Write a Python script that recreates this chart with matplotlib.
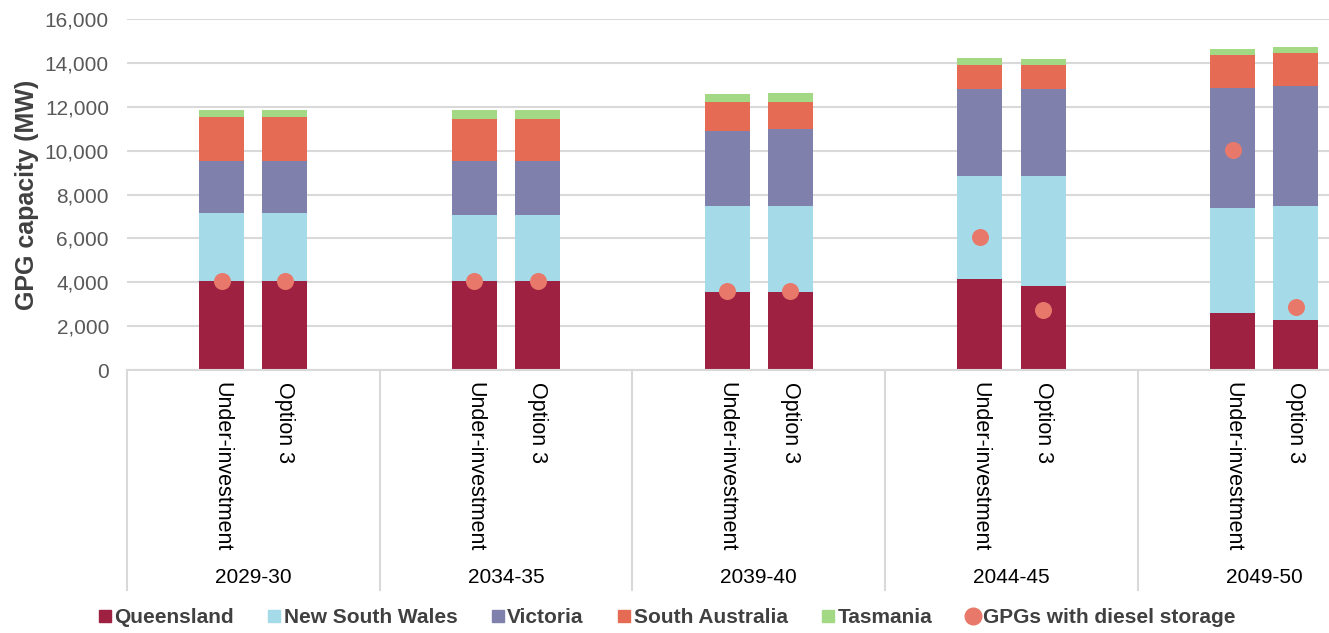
import numpy as np
import matplotlib.pyplot as plt
from matplotlib.lines import Line2D
from matplotlib.transforms import blended_transform_factory

plt.rcParams['font.family'] = ['Liberation Sans', 'DejaVu Sans']

# ─── Data (MW) ────────────────────────────────────────────────────────────────

YEARS     = ['2029-30', '2034-35', '2039-40', '2044-45', '2049-50']
SCENARIOS = ['Under-investment', 'Option 3']

QLD_UI = [4050, 4050, 3570, 4130, 2610]
QLD_O3 = [4050, 4050, 3570, 3810, 2290]
NSW_UI = [3100, 3030, 3900, 4700, 4790]
NSW_O3 = [3100, 3030, 3900, 5020, 5180]
VIC_UI = [2390, 2460, 3410, 3960, 5470]
VIC_O3 = [2390, 2460, 3500, 3960, 5490]
SA_UI  = [1980, 1900, 1350, 1130, 1500]
SA_O3  = [1980, 1900, 1260, 1130, 1510]
TAS_UI = [330, 410, 340, 310, 260]
TAS_O3 = [330, 410, 410, 240, 240]

DIESEL_UI = [4050, 4050, 3600, 6060, 10030]
DIESEL_O3 = [4050, 4050, 3600, 2730, 2890]

REGIONS = ['Queensland', 'New South Wales', 'Victoria', 'South Australia', 'Tasmania']
COLORS  = ['#9E2142', '#A5DBE8', '#7F80AC', '#E66B55', '#A3D985']
DOT_COLOR = '#E8796A'

# ─── Figure ───────────────────────────────────────────────────────────────────

fig = plt.figure(figsize=(13.29, 6.33), dpi=100)
ax = fig.add_axes([127 / 1329, 263 / 633, 1 - 127 / 1329, 351 / 633])

x = np.arange(len(YEARS))
offset, width = 0.125, 0.178

stacks = {
    -offset: [QLD_UI, NSW_UI, VIC_UI, SA_UI, TAS_UI],
    +offset: [QLD_O3, NSW_O3, VIC_O3, SA_O3, TAS_O3],
}
for dx, series in stacks.items():
    bottom = np.zeros(len(YEARS))
    for vals, col in zip(series, COLORS):
        ax.bar(x + dx, vals, width, bottom=bottom, color=col, zorder=2)
        bottom += np.array(vals)

ax.scatter(x - offset, DIESEL_UI, s=150, color=DOT_COLOR, zorder=3, linewidths=0)
ax.scatter(x + offset, DIESEL_O3, s=150, color=DOT_COLOR, zorder=3, linewidths=0)

# ─── Axes styling ─────────────────────────────────────────────────────────────

ax.set_xlim(-0.5, (1329 - 127) / 252.7 - 0.5)
ax.set_ylim(0, 16000)
ax.set_yticks(range(0, 16001, 2000))
ax.set_yticklabels([f'{v:,}' for v in range(0, 16001, 2000)])
ax.yaxis.grid(True, color='#D9D9D9', linewidth=1.5, zorder=0)
ax.set_axisbelow(True)
for side in ['top', 'right', 'left']:
    ax.spines[side].set_visible(False)
ax.spines['bottom'].set_color('#D9D9D9')
ax.spines['bottom'].set_linewidth(1.5)
ax.tick_params(axis='y', length=0, labelsize=15, labelcolor='#595959', pad=13)
ax.tick_params(axis='x', length=0, labelbottom=False)
ax.set_ylabel('GPG capacity (MW)', fontsize=18, fontweight='bold',
              color='#404040', labelpad=4)

# Two-level category axis: scenario names, then years, with separators
trans = blended_transform_factory(ax.transData, ax.transAxes)
for i, year in enumerate(YEARS):
    for dx, name in zip([-offset, offset], SCENARIOS):
        ax.text(i + dx, -0.035, name, transform=trans, rotation=270,
                ha='center', va='top', fontsize=15.5, color='#000000')
    ax.text(i, -0.59, year, transform=trans, ha='center', va='center',
            fontsize=15, color='#000000')
for sep in np.arange(-0.5, len(YEARS), 1.0):
    ax.plot([sep, sep], [0, -0.627], transform=trans, color='#D9D9D9',
            linewidth=1.5, clip_on=False)

# ─── Legend ───────────────────────────────────────────────────────────────────

handles = [Line2D([], [], marker='s', linestyle='none', markersize=8,
                  color=c, label=r) for r, c in zip(REGIONS, COLORS)]
handles.append(Line2D([], [], marker='o', linestyle='none', markersize=12,
                      color=DOT_COLOR, label='GPGs with diesel storage'))
leg = fig.legend(handles=handles, loc='center', bbox_to_anchor=(0.502, 0.024),
                 ncol=6, frameon=False, handlelength=0.5, handletextpad=0.2,
                 columnspacing=1.7, prop={'weight': 'bold', 'size': 15})
for t in leg.get_texts():
    t.set_color('#404040')

fig.savefig('out.png', dpi=100)
